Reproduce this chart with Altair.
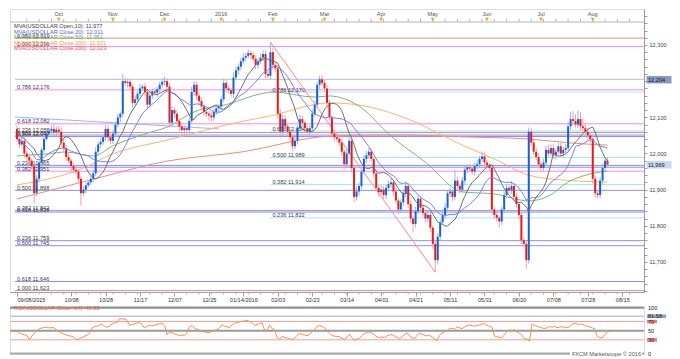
import json
import altair as alt
import pandas as pd

# ---------------- data ----------------
first_open = 12068
close = [
    12040, 12025, 12035, 12000, 11990, 11980, 11965, 11890, 11930, 11975, 12010, 12040, 12055, 12062, 12068, 12058, 12066, 12060, 12030, 12015,
    11990, 11980, 11965, 11955, 11950, 11930, 11890, 11900, 11912, 11920, 11930, 11945, 12005, 12025, 12032, 12045, 12068, 12045, 12035, 12055,
    12080, 12100, 12110, 12200, 12195, 12198, 12185, 12140, 12150, 12165, 12180, 12185, 12170, 12135, 12160, 12172, 12168, 12178, 12190, 12198,
    12200, 12185, 12085, 12120, 12110, 12090, 12075, 12065, 12070, 12065, 12090, 12170, 12190, 12160, 12145, 12130, 12115, 12110, 12105, 12100,
    12115, 12125, 12130, 12150, 12195, 12180, 12175, 12165, 12210, 12230, 12240, 12255, 12265, 12270, 12278, 12272, 12262, 12245, 12255, 12265,
    12275, 12220, 12215, 12280, 12245, 12235, 12110, 12060, 12095, 12075, 12060, 12045, 12020, 12035, 12070, 12095, 12085, 12070, 12060, 12070,
    12110, 12135, 12190, 12205, 12195, 12180, 12140, 12100, 12055, 12045, 12040, 12030, 12005, 11970, 12000, 12035, 11960, 11880, 11895, 11910,
    11950, 11985, 11995, 12005, 11985, 11945, 11905, 11893, 11900, 11885, 11905, 11915, 11920, 11895, 11870, 11845, 11865, 11890, 11910, 11860,
    11820, 11805, 11840, 11875, 11850, 11835, 11820, 11830, 11795, 11750, 11705, 11770, 11810, 11830, 11850, 11890, 11895, 11880, 11925, 11910,
    11900, 11925, 11955, 11962, 11958, 11950, 11965, 11970, 11985, 11992, 11975, 11968, 11960, 11845, 11830, 11822, 11812, 11845, 11885, 11905,
    11898, 11910, 11880, 11860, 11830, 11760, 11750, 11705, 12060, 12030, 12005, 11990, 11970, 11960, 11975, 12010, 12000, 12015, 11995, 12005,
    12020, 12000, 12010, 12015, 12075, 12095, 12090, 12080, 12095, 12075, 12070, 12060, 12050, 12040, 11930, 11890, 11885, 11925, 11960, 11980,
    11969,
]
upper_wick = [
    10, 8, 12, 6, 8, 10, 6, 12, 10, 8, 6, 10, 12, 8, 10, 14, 8, 10, 12, 8,
    8, 10, 6, 8, 12, 6, 8, 10, 8, 6, 8, 10, 12, 8, 10, 6, 12, 10, 8, 10,
    8, 10, 6, 20, 12, 8, 10, 6, 10, 8, 12, 6, 10, 8, 12, 8, 10, 6, 8, 10,
    12, 8, 10, 12, 8, 10, 6, 10, 8, 6, 10, 14, 10, 8, 6, 10, 8, 6, 8, 10,
    8, 10, 6, 8, 12, 10, 8, 6, 14, 10, 8, 10, 12, 8, 10, 6, 8, 10, 8, 10,
    12, 10, 8, 28, 12, 8, 10, 14, 12, 10, 8, 6, 8, 10, 8, 12, 10, 6, 8, 10,
    12, 10, 8, 10, 12, 8, 10, 8, 6, 10, 8, 12, 10, 8, 12, 14, 10, 8, 12, 10,
    8, 10, 12, 10, 8, 6, 10, 8, 12, 10, 8, 10, 12, 8, 10, 6, 8, 10, 12, 8,
    10, 8, 12, 10, 8, 10, 6, 10, 8, 6, 12, 10, 8, 10, 12, 8, 10, 6, 30, 10,
    8, 10, 12, 8, 10, 6, 10, 12, 8, 14, 10, 8, 6, 10, 8, 10, 6, 8, 10, 12,
    10, 14, 8, 10, 6, 8, 10, 8, 12, 10, 8, 12, 10, 8, 10, 12, 14, 10, 12, 8,
    10, 12, 8, 10, 12, 20, 22, 18, 24, 20, 22, 14, 10, 8, 12, 10, 8, 10, 12, 8,
    10,
]
lower_wick = [
    8, 10, 6, 12, 10, 8, 10, 28, 8, 10, 12, 8, 6, 10, 8, 10, 12, 8, 10, 12,
    10, 8, 12, 10, 8, 10, 35, 8, 10, 6, 8, 10, 8, 12, 10, 8, 10, 12, 10, 8,
    10, 8, 12, 10, 8, 12, 10, 14, 8, 10, 6, 8, 10, 12, 8, 10, 8, 12, 10, 8,
    10, 12, 14, 10, 12, 10, 14, 20, 18, 20, 10, 8, 10, 12, 10, 8, 12, 10, 14, 12,
    10, 8, 12, 10, 8, 12, 10, 8, 10, 8, 12, 10, 8, 10, 6, 10, 8, 12, 10, 8,
    10, 12, 8, 10, 12, 10, 14, 12, 10, 8, 12, 10, 14, 8, 10, 8, 12, 10, 8, 12,
    10, 8, 10, 12, 8, 10, 12, 8, 10, 12, 8, 10, 12, 14, 10, 8, 12, 14, 10, 12,
    10, 8, 12, 10, 8, 12, 10, 12, 8, 10, 12, 8, 10, 12, 10, 14, 8, 10, 12, 10,
    12, 22, 10, 8, 12, 10, 12, 10, 12, 14, 33, 12, 10, 8, 10, 12, 10, 12, 8, 10,
    10, 8, 12, 10, 8, 10, 12, 8, 10, 8, 12, 10, 8, 14, 12, 10, 16, 10, 8, 10,
    8, 10, 12, 10, 14, 12, 10, 24, 10, 12, 10, 8, 12, 10, 8, 10, 12, 8, 10, 12,
    8, 10, 12, 10, 8, 10, 12, 8, 10, 12, 10, 8, 12, 10, 14, 12, 10, 8, 10, 12,
    8,
]

# moving averages (bar index, value)
ma50_i = [0, 12, 20, 31, 39, 52, 61, 72, 86, 99, 104, 121, 127, 139, 152, 166, 181, 194, 208, 216, 224, 234, 240]
ma50_v = [11993, 11999, 12004, 11993, 12021, 12054, 12073, 12115, 12137, 12165, 12170, 12156, 12159, 12131, 12048, 11976, 11894, 11888, 11869, 11882, 11921, 11945, 11951]
ma100_i = [0, 26, 39, 61, 91, 103, 127, 139, 159, 181, 194, 208, 221, 240]
ma100_v = [11913, 11957, 11999, 12037, 12088, 12104, 12140, 12134, 12095, 12023, 11985, 11940, 11927, 11921]
ma200_i = [0, 30, 61, 91, 127, 144, 159, 181, 208, 225, 240]
ma200_v = [11874, 11927, 11979, 12004, 12048, 12051, 12051, 12046, 12040, 12029, 12023]

trend_i = [-0.8, 82]
trend_v = [12101, 12068]
diag_i = [103, 170]
diag_v = [12308, 11672]

fib_price = [12319, 12296, 12205, 12176, 12170, 12082, 12062, 12058, 12051, 12047, 11989, 11967, 11962, 11951,
             11914, 11898, 11842, 11838, 11822, 11759, 11745, 11646, 11621]
fib_kind = ["brown", "magenta", "slate", "magenta", "cyan", "magenta", "cyan", "brown", "blue", "blue", "cyan", "blue", "blue", "magenta",
            "cyan", "blue", "blue", "blue", "cyan", "blue", "blue", "blue", "brown"]
fib_label = ["0.382 12,319", "1.000 12,296", "", "0.786 12,176", "0.786 12,170", "0.618 12,082", "0.618 12,054", "0.236 12,058",
             "0.382 12,051", "0.500 12,047", "0.500 11,989", "0.236 11,965", "", "0.382 11,951", "0.382 11,914", "0.500 11,898",
             "0.382 11,842", "0.618 11,838", "0.236 11,822", "0.236 11,759", "0.500 11,745", "0.618 11,646", "1.000 11,623"]

month_name = ["Oct", "Nov", "Dec", "2016", "Feb", "Mar", "Apr", "May", "Jun", "Jul", "Aug"]
month_idx = [17, 39, 60, 83, 104, 125, 148, 169, 191, 213, 234]
date_idx = [0, 22, 36, 50, 64, 78, 92, 106, 120, 134, 148, 162, 176, 190, 204, 218, 232, 246]
date_txt = ["09/08/2015", "10/08", "10/28", "11/17", "12/07", "12/25", "01/14/2016", "02/03", "02/23", "03/14",
            "04/01", "04/21", "05/11", "05/31", "06/20", "07/08", "07/28", "08/15"]

legend_txt = ["MVA(USDOLLAR.Open,10): 11,977", "MVA(USDOLLAR.Close,20): 12,011", "MVA(USDOLLAR.Close,50): 11,951",
              "MVA(USDOLLAR.Close,100): 11,921", "MVA(USDOLLAR.Close,200): 12,023"]
rsi_title = "RSI(USDOLLAR.Close, 14): 40.35"
rsi_levels = [100, 81.58, 70, 50, 30, 0]
rsi_seed = 12.0   # assumed average gain / loss carried in from before the visible window

# ---------------- styling ----------------
FONT = "Liberation Sans"
FS = 5.6
W, H = 634, 283
HR = 48
kind_color = {"brown": "#d69292", "magenta": "#ff86ff", "slate": "#b9bfdc", "cyan": "#a3e7f3", "blue": "#8d8dfa"}
cyan_start = 103

XS = alt.Scale(domain=[-0.8, 252.8], nice=False, zero=False)
YS = alt.Scale(domain=[11617, 12399.5], nice=False, zero=False)
RS = alt.Scale(domain=[-1, 104], nice=False, zero=False)

label_expr = "{}[indexof({}, datum.value)]".format(json.dumps(date_txt), json.dumps(date_idx))
XAX = alt.Axis(orient="bottom", values=date_idx, labelExpr=label_expr, grid=False, title=None,
               labelFontSize=FS, labelFont=FONT, labelColor="#333", tickSize=4, tickColor="#a0a0a0",
               domainColor="#a0a0a0", labelPadding=1, labelOverlap=False,
               labelAlign={"condition": {"test": "datum.value == 0", "value": "left"}, "value": "center"})
YAX = alt.Axis(orient="right", values=list(range(11620, 12400, 20)),
               labelExpr="(datum.value % 100 == 0 && datum.value != 12200) ? format(datum.value, ',') : ''",
               grid=False, title=None, tickSize=3, tickColor="#9a9a9a", domainColor="#9a9a9a",
               labelFontSize=FS, labelFont=FONT, labelColor="#444", labelPadding=2, labelOverlap=False)


def X(field):
    return alt.X(field, type="quantitative", scale=XS, axis=XAX)


def Y(field):
    return alt.Y(field, type="quantitative", scale=YS, axis=YAX)


# ---------------- frames ----------------
opens = [first_open] + close[:-1]
highs = [max(o, c) + u for o, c, u in zip(opens, close, upper_wick)]
lows = [min(o, c) - l for o, c, l in zip(opens, close, lower_wick)]
candles = pd.DataFrame({"i": range(len(close)), "open": opens, "close": close, "high": highs, "low": lows})
up = candles["close"] >= candles["open"]
candles["body"] = up.map({True: "#1d5fd3", False: "#e51c1c"})
candles["wick"] = up.map({True: "#93b7ee", False: "#f4a3a3"})
ma = pd.DataFrame({"i": candles["i"],
                   "ma10": pd.Series(opens).rolling(10, min_periods=1).mean(),
                   "ma20": pd.Series(close).rolling(20, min_periods=1).mean()})

# Wilder RSI(14)
ag, al = rsi_seed, rsi_seed
rsi_vals = [50.0]
for k in range(1, len(close)):
    dlt = close[k] - close[k - 1]
    ag = (ag * 13 + max(dlt, 0)) / 14
    al = (al * 13 + max(-dlt, 0)) / 14
    rsi_vals.append(100 - 100 / (1 + ag / al))
rsi_df = pd.DataFrame({"i": candles["i"], "rsi": rsi_vals})

fib = pd.DataFrame({"price": fib_price, "label": fib_label,
                    "color": [kind_color[k] for k in fib_kind],
                    "start": [cyan_start if k == "cyan" else -0.8 for k in fib_kind]})
one = pd.DataFrame({"k": [0]})
weeks = pd.DataFrame({"i": list(range(4, 252, 5))})

# ---------------- main panel ----------------
layers = []
# top time strip
layers.append(alt.Chart(one).mark_rule(color="#b4b4b4", strokeWidth=1).encode(y=alt.value(13)))
layers.append(alt.Chart(weeks).mark_rule(color="#b4b4b4").encode(x=X("i"), y=alt.value(10), y2=alt.value(13)))
# weekly minor ticks under the plot
layers.append(alt.Chart(weeks).mark_rule(color="#b0b0b0").encode(x=X("i"), y=alt.value(H), y2=alt.value(H + 2.5)))
mon = pd.DataFrame({"i": month_idx, "name": month_name})
layers.append(alt.Chart(mon).mark_point(shape="triangle-down", filled=True, size=16, color="#f2a32c", opacity=1).encode(
    x=X("i"), y=alt.value(10.5)))
layers.append(alt.Chart(mon).mark_text(font=FONT, fontSize=FS, color="#555", baseline="middle").encode(
    x=X("i"), y=alt.value(4.5), text="name:N"))

# horizontal levels
layers.append(alt.Chart(fib).mark_rule(strokeWidth=1).encode(
    x=X("start"), x2=alt.value(W), y=Y("price"), color=alt.Color("color:N", scale=None)))
layers.append(alt.Chart(fib).mark_text(font=FONT, fontSize=FS, color="#3a3a3a", align="left", baseline="bottom", dx=2, dy=0.5).encode(
    x=X("start"), y=Y("price"), text="label:N"))

# trend lines
layers.append(alt.Chart(pd.DataFrame({"i": trend_i, "v": trend_v})).mark_line(color="#9db8f2", strokeWidth=1).encode(
    x=X("i"), y=Y("v")))
layers.append(alt.Chart(pd.DataFrame({"i": diag_i, "v": diag_v})).mark_line(color="#ff8a8a", strokeWidth=1).encode(
    x=X("i"), y=Y("v")))

# slow moving averages
for mi, mv, col in [(ma200_i, ma200_v, "#f58a7a"), (ma100_i, ma100_v, "#ffb372"), (ma50_i, ma50_v, "#79b979")]:
    layers.append(alt.Chart(pd.DataFrame({"i": mi, "v": mv})).mark_line(color=col, strokeWidth=1, interpolate="monotone").encode(
        x=X("i"), y=Y("v")))

# candles
layers.append(alt.Chart(candles).mark_rule(strokeWidth=1).encode(
    x=X("i"), y=Y("low"), y2="high", color=alt.Color("wick:N", scale=None)))
layers.append(alt.Chart(candles).mark_bar(size=2).encode(
    x=X("i"), y=Y("open"), y2="close", color=alt.Color("body:N", scale=None)))

# fast moving averages
layers.append(alt.Chart(ma).mark_line(color="#7c7cf5", strokeWidth=1).encode(x=X("i"), y=Y("ma20")))
layers.append(alt.Chart(ma).mark_line(color="#6e6e6e", strokeWidth=1).encode(x=X("i"), y=Y("ma10")))

# legend texts
legend_col = ["#3c3c3c", "#5a5af0", "#5caa5c", "#f59a40", "#ff4b4b"]
legend_y = [17, 22.5, 28, 33.5, 39]
for t, c, yy in zip(legend_txt, legend_col, legend_y):
    layers.append(alt.Chart(one).mark_text(text=t, font=FONT, fontSize=FS, color=c, align="left", baseline="middle").encode(
        x=alt.value(4), y=alt.value(yy)))

# price boxes on right axis
box_path = "M-1,-0.3L1,-0.3L1,0.3L-1,0.3Z"
for price, txt, bg, fg in [(12204, "12,204", "#8d9ac0", "#111133"), (11969, "11,969", "#c9d7f0", "#111133")]:
    bdf = pd.DataFrame({"p": [price]})
    layers.append(alt.Chart(bdf).mark_point(shape=box_path, size=625, filled=True, color=bg, opacity=1).encode(
        x=alt.value(W + 15), y=Y("p")))
    layers.append(alt.Chart(bdf).mark_text(text=txt, font=FONT, fontSize=FS, color=fg, align="left", baseline="middle").encode(
        x=alt.value(W + 4), y=Y("p")))

main = alt.layer(*layers).properties(width=W, height=H)

# ---------------- RSI panel ----------------
RX = alt.X("i", type="quantitative", scale=XS, axis=None)


def RY(field):
    return alt.Y(field, type="quantitative", scale=RS, axis=None)


lvl = pd.DataFrame({"v": rsi_levels,
                    "c": ["#8f8f8f", "#bdc6de", "#ff9a9a", "#9a9a9a", "#ff9a9a", "#a8a8a8"],
                    "w": [2, 1.5, 1, 2, 1, 2]})
r_layers = [
    alt.Chart(lvl).mark_rule().encode(y=RY("v"), color=alt.Color("c:N", scale=None), size=alt.Size("w:Q", scale=None)),
    alt.Chart(rsi_df).mark_line(color="#f39058", strokeWidth=1).encode(x=RX, y=RY("rsi")),
    alt.Chart(one).mark_text(text=rsi_title, font=FONT, fontSize=FS, color="#e8653f", align="left", baseline="middle").encode(
        x=alt.value(4), y=alt.value(2.2)),
]
for v, txt, bg, wbox in [(100, "100", None, 0), (81.58, "81.58", "#8f9fc6", 19), (70, "70", "#ff7a7a", 10),
                         (50, "50", None, 0), (30, "30", "#ff7a7a", 10), (0, "0", None, 0)]:
    df = pd.DataFrame({"v": [v]})
    if bg:
        hh = 3.4 / wbox
        path = "M-1,-{0}L1,-{0}L1,{0}L-1,{0}Z".format(round(hh, 3))
        r_layers.append(alt.Chart(df).mark_point(shape=path, size=wbox * wbox, filled=True, color=bg, opacity=1).encode(
            x=alt.value(W + 3 + wbox / 2), y=RY("v")))
    r_layers.append(alt.Chart(df).mark_text(text=txt, font=FONT, fontSize=FS, color="#222", align="left", baseline="middle").encode(
        x=alt.value(W + 4), y=RY("v")))

r_layers.append(alt.Chart(one).mark_point(shape="M-1,-0.1L1,-0.1L1,0.1L-1,0.1Z", size=5184, filled=True, color="white", opacity=1).encode(
    x=alt.value(W - 38), y=RY("k")))
r_layers.append(alt.Chart(one).mark_text(text="FXCM Marketscope \u00a9 2016", font=FONT, fontSize=FS, color="#555",
                                         align="right", baseline="middle").encode(x=alt.value(W - 3), y=RY("k")))

rsi_chart = alt.layer(*r_layers).properties(width=W, height=HR)

chart = alt.vconcat(main, rsi_chart, spacing=1).properties(
    padding={"left": 0, "top": 0, "right": 0, "bottom": 0}, background="white"
).configure_view(strokeWidth=0).configure(font=FONT)

chart.save("out.html", embed_options={"renderer": "svg", "actions": False})
